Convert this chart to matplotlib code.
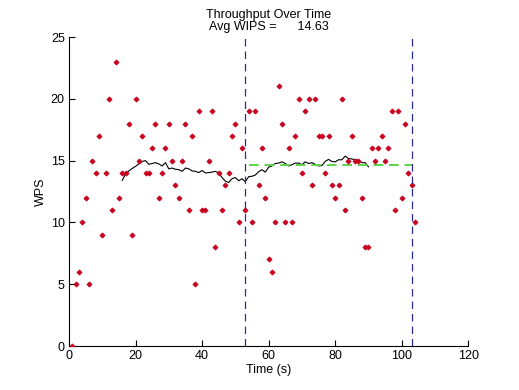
import numpy as np
import pandas as pd
import matplotlib
matplotlib.use("Agg")
import matplotlib.pyplot as plt

plt.rcParams['font.family'] = ['Liberation Sans', 'DejaVu Sans']

time_s = list(range(1, 105))
wips = [0, 5, 6, 10, 12, 5, 15, 14, 17, 9, 14, 20, 11, 23, 12, 14, 14, 18, 9, 20,
        15, 17, 14, 14, 16, 18, 12, 14, 16, 18, 15, 13, 12, 15, 18, 11, 17, 5, 19, 11,
        11, 15, 19, 8, 14, 11, 13, 14, 17, 18, 10, 16, 11, 19, 10, 19, 13, 16, 12, 7,
        6, 10, 21, 18, 10, 16, 10, 17, 20, 14, 19, 20, 13, 20, 17, 17, 14, 17, 13, 12,
        13, 20, 11, 15, 17, 15, 15, 12, 8, 8, 16, 15, 16, 17, 15, 16, 19, 11, 19, 12,
        18, 14, 13, 10]
window_start = 53
window_end = 103
avg_line_start = 54

t = np.array(time_s)
w = np.array(wips, dtype=float)
mask = (t >= window_start) & (t <= window_end)
avg = w[mask].mean()
ma = pd.Series(w).rolling(30, center=True).mean().values

fig = plt.figure(figsize=(5.19, 3.90), dpi=100)
ax = fig.add_axes([0.1329, 0.1128, 0.7694, 0.7923])

ax.plot(t, w, linestyle='none', marker='D', markersize=2.6, color='#c8001e',
        markeredgewidth=0.6, zorder=3)
ax.plot(t, ma, color='black', linewidth=0.8, zorder=2)
ax.plot([avg_line_start, window_end], [avg, avg], color='#5fd34a', linewidth=1.4,
        dashes=(5, 3), zorder=2)
for xv in (window_start, window_end):
    ax.axvline(xv, color='#2a2a9c', linewidth=0.9, dashes=(6, 4), zorder=4)

ax.set_xlim(0, 120)
ax.set_ylim(0, 25)
ax.set_xticks(np.arange(0, 121, 20))
ax.set_yticks(np.arange(0, 26, 5))
for s in ('top', 'right'):
    ax.spines[s].set_visible(False)
for s in ('left', 'bottom'):
    ax.spines[s].set_linewidth(0.8)
ax.tick_params(direction='in', length=4, width=0.8, labelsize=9, pad=3)
ax.set_xlabel('Time (s)', fontsize=9, labelpad=1)
ax.set_ylabel('WPS', fontsize=9, labelpad=3)
ax.set_title('Throughput Over Time\nAvg WIPS =      %.2f' % avg, fontsize=9,
             linespacing=1.05, pad=5)

fig.savefig('out.png', dpi=100)
